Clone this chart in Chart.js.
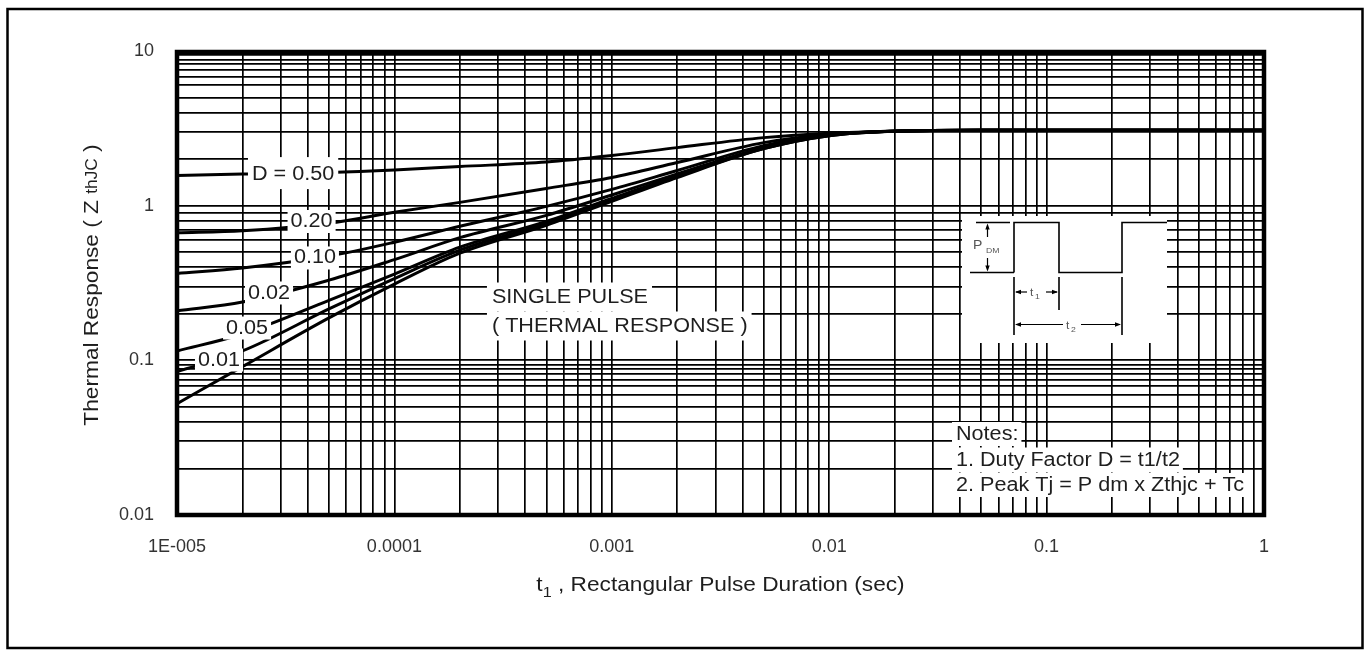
<!DOCTYPE html>
<html>
<head>
<meta charset="utf-8">
<title>Transient Thermal Response</title>
<script src="https://cdn.jsdelivr.net/npm/chart.js@4.4.1/dist/chart.umd.min.js"></script>
<style>
  html, body { margin: 0; padding: 0; background: #fff; }
  canvas { display: block; }
</style>
</head>
<body>
<canvas id="zth" width="1370" height="656"></canvas>
<script>
// Rectangular pulse duration t1 (s) at which every curve is sampled
const pulseTimes = [1e-5, 2e-5, 5e-5, 1e-4, 2e-4, 5e-4, 1e-3, 2e-3, 5e-3, 1e-2, 2e-2, 5e-2, 1];

// Transient thermal response Zth(JC), one array per labelled curve
const zD50    = [1.567, 1.603, 1.639, 1.700, 1.791, 1.914, 2.108, 2.373, 2.754, 2.943, 3.03, 3.07, 3.07];
const zD20    = [0.668, 0.688, 0.769, 0.906, 1.050, 1.292, 1.521, 1.900, 2.556, 2.900, 3.03, 3.07, 3.07];
const zD10    = [0.364, 0.395, 0.472, 0.580, 0.736, 0.990, 1.274, 1.688, 2.445, 2.878, 3.03, 3.07, 3.07];
const zD02    = [0.209, 0.238, 0.330, 0.448, 0.621, 0.866, 1.173, 1.603, 2.373, 2.857, 3.03, 3.07, 3.07];
const zD05    = [0.115, 0.148, 0.244, 0.361, 0.539, 0.792, 1.114, 1.556, 2.356, 2.857, 3.03, 3.07, 3.07];
const zD01    = [0.0845, 0.115, 0.215, 0.338, 0.516, 0.769, 1.090, 1.544, 2.339, 2.836, 3.03, 3.07, 3.07];
const zSingle = [0.0525, 0.091, 0.188, 0.311, 0.493, 0.747, 1.066, 1.521, 2.339, 2.836, 3.03, 3.07, 3.07];

const curveNames = ['D = 0.50', '0.20', '0.10', '0.02', '0.05', '0.01', 'SINGLE PULSE'];
const curveValues = [zD50, zD20, zD10, zD02, zD05, zD01, zSingle];

// Axis decades and their printed labels
const xDecades = [1e-5, 1e-4, 1e-3, 1e-2, 1e-1, 1];
const xTickLabels = ['1E-005', '0.0001', '0.001', '0.01', '0.1', '1'];
const yDecades = [0.01, 0.1, 1, 10];
const yTickLabels = ['0.01', '0.1', '1', '10'];

// Grid rulings inside each decade (the outer y decades are ruled more finely)
const xSteps = [1, 2, 3, 4, 5, 6, 7, 8, 9];
const ySteps = [
  [1, 2, 3, 4, 5, 6, 6.8, 7.5, 8.2, 8.8, 9.4],   // 0.01 .. 0.1
  [1, 2, 3, 4, 5, 6, 7, 8, 9],                   // 0.1 .. 1
  [1, 2, 3, 4, 5, 6, 6.8, 7.5, 8.2, 8.8, 9.4]    // 1 .. 10
];

const xGrid = [];
for (let i = 0; i < xDecades.length - 1; i++) xSteps.forEach(m => xGrid.push(xDecades[i] * m));
xGrid.push(xDecades[xDecades.length - 1]);
const yGrid = [];
for (let i = 0; i < yDecades.length - 1; i++) ySteps[i].forEach(m => yGrid.push(yDecades[i] * m));
yGrid.push(yDecades[yDecades.length - 1]);

function decadeLabel(v, decades, labels) {
  for (let i = 0; i < decades.length; i++) {
    if (Math.abs(Math.log10(v) - Math.log10(decades[i])) < 1e-6) return labels[i];
  }
  return '';
}

const SANS = '"Liberation Sans", Arial, Helvetica, sans-serif';
const INK = '#1e1e1e';
const STRETCH = 1.08;   // lettering is a little wider than the stock face

function textWidth(ctx, s) { return ctx.measureText(s).width * STRETCH; }
function putText(ctx, s, x, y, align) {
  const w = textWidth(ctx, s);
  let x0 = x;
  if (align === 'center') x0 = x - w / 2;
  else if (align === 'right') x0 = x - w;
  ctx.save();
  ctx.translate(x0, y);
  ctx.scale(STRETCH, 1);
  ctx.textAlign = 'left';
  ctx.fillText(s, 0, 0);
  ctx.restore();
  return w;
}
// text line sitting on its own white patch, left anchored
function patchText(ctx, s, x, y, padL, padR, h) {
  const w = textWidth(ctx, s);
  ctx.fillStyle = '#fff';
  ctx.fillRect(x - padL, y - h / 2, w + padL + padR, h);
  ctx.fillStyle = INK;
  putText(ctx, s, x, y, 'left');
}

// Curve tags, anchored in data space (t1, Zth); up/down = patch extent around the text
const curveTags = [
  { text: 'D = 0.50', t: 3.42e-5, z: 1.60,   padX: 4, up: 17, down: 15 },
  { text: '0.20',     t: 4.16e-5, z: 0.790,  padX: 3, up: 11.5, down: 11.5 },
  { text: '0.10',     t: 4.31e-5, z: 0.459,  padX: 3, up: 11.5, down: 11.5 },
  { text: '0.02',     t: 2.65e-5, z: 0.2725, padX: 3, up: 11.5, down: 11.5 },
  { text: '0.05',     t: 2.10e-5, z: 0.1618, padX: 3, up: 11.5, down: 11.5 },
  { text: '0.01',     t: 1.56e-5, z: 0.1005, padX: 3, up: 11.5, down: 11.5 }
];

function arrowHead(ctx, x, y, dx, dy, len, half) {
  // tip at (x,y), pointing along (dx,dy)
  const px = -dy, py = dx;
  ctx.beginPath();
  ctx.moveTo(x, y);
  ctx.lineTo(x - dx * len + px * half, y - dy * len + py * half);
  ctx.lineTo(x - dx * len - px * half, y - dy * len - py * half);
  ctx.closePath();
  ctx.fill();
}
function seg(ctx, x1, y1, x2, y2) {
  ctx.beginPath(); ctx.moveTo(x1, y1); ctx.lineTo(x2, y2); ctx.stroke();
}

function drawPulseInset(ctx) {
  ctx.fillStyle = '#fff';
  ctx.fillRect(962, 216, 205, 127);
  ctx.strokeStyle = '#000';
  ctx.fillStyle = '#000';
  ctx.lineWidth = 1.6;
  const hi = 222.5, lo = 272.5;
  seg(ctx, 976, hi, 1010, hi);
  seg(ctx, 970, lo, 1014, lo);
  ctx.beginPath();
  ctx.moveTo(1014, lo); ctx.lineTo(1014, hi); ctx.lineTo(1059, hi); ctx.lineTo(1059, lo);
  ctx.lineTo(1122, lo); ctx.lineTo(1122, hi); ctx.lineTo(1167, hi);
  ctx.stroke();
  // P_DM arrows
  ctx.lineWidth = 1.2;
  seg(ctx, 987.5, 228, 987.5, 237);
  arrowHead(ctx, 987.5, hi + 1, 0, -1, 6, 2.2);
  seg(ctx, 987.5, 258, 987.5, 267);
  arrowHead(ctx, 987.5, lo - 1, 0, 1, 6, 2.2);
  ctx.fillStyle = '#555';
  ctx.textBaseline = 'alphabetic';
  ctx.font = `13px ${SANS}`;
  putText(ctx, 'P', 973, 249, 'left');
  ctx.font = `8px ${SANS}`;
  putText(ctx, 'DM', 986, 253, 'left');
  // extension lines
  ctx.lineWidth = 1.6;
  ctx.strokeStyle = '#000';
  seg(ctx, 1014, 277, 1014, 335);
  seg(ctx, 1059, 277, 1059, 310);
  seg(ctx, 1122, 277, 1122, 335);
  // t1 dimension
  ctx.lineWidth = 1.2;
  ctx.fillStyle = '#000';
  seg(ctx, 1016, 292, 1027, 292);
  arrowHead(ctx, 1015, 292, -1, 0, 6, 2.2);
  seg(ctx, 1046, 292, 1057, 292);
  arrowHead(ctx, 1058, 292, 1, 0, 6, 2.2);
  ctx.fillStyle = '#555';
  ctx.font = `11px ${SANS}`;
  putText(ctx, 't', 1030, 296, 'left');
  ctx.font = `8px ${SANS}`;
  putText(ctx, '1', 1035, 299, 'left');
  // t2 dimension
  ctx.fillStyle = '#000';
  seg(ctx, 1016, 324.5, 1063, 324.5);
  arrowHead(ctx, 1015, 324.5, -1, 0, 6, 2.2);
  seg(ctx, 1081, 324.5, 1120, 324.5);
  arrowHead(ctx, 1121, 324.5, 1, 0, 6, 2.2);
  ctx.fillStyle = '#555';
  ctx.font = `11px ${SANS}`;
  putText(ctx, 't', 1066, 328.5, 'left');
  ctx.font = `8px ${SANS}`;
  putText(ctx, '2', 1071, 331.5, 'left');
}

function drawRuns(ctx, runs, x, baseline) {
  // runs: [{s, size, dy}] drawn left to right
  let cx = x;
  runs.forEach(r => {
    ctx.font = `${r.size}px ${SANS}`;
    cx += putText(ctx, r.s, cx, baseline + r.dy, 'left');
  });
}
function runsWidth(ctx, runs) {
  let w = 0;
  runs.forEach(r => { ctx.font = `${r.size}px ${SANS}`; w += textWidth(ctx, r.s); });
  return w;
}

const decor = {
  id: 'decor',
  afterDatasetsDraw(chart) {
    const { ctx, chartArea: a, scales } = chart;
    const xs = scales.x, ys = scales.y;
    ctx.save();

    // curve tags on white patches
    ctx.font = `20px ${SANS}`;
    ctx.textBaseline = 'middle';
    curveTags.forEach(tag => {
      const px = xs.getPixelForValue(tag.t), py = ys.getPixelForValue(tag.z);
      const w = textWidth(ctx, tag.text);
      ctx.fillStyle = '#fff';
      ctx.fillRect(px - w / 2 - tag.padX, py - tag.up, w + 2 * tag.padX, tag.up + tag.down);
      ctx.fillStyle = INK;
      putText(ctx, tag.text, px, py, 'center');
    });

    // single pulse caption
    const sx = xs.getPixelForValue(2.81e-4), sy = ys.getPixelForValue(0.2567);
    patchText(ctx, 'SINGLE PULSE', sx, sy, 5, 4, 29);
    patchText(ctx, '( THERMAL RESPONSE )', sx, sy + 29, 5, 4, 29);

    // pulse waveform inset
    drawPulseInset(ctx);

    // notes
    ctx.font = `20px ${SANS}`;
    ctx.textBaseline = 'middle';
    patchText(ctx, 'Notes:', 956, 434, 4, 3, 24);
    patchText(ctx, '1. Duty Factor D = t1/t2', 956, 460, 4, 3, 25);
    patchText(ctx, '2. Peak Tj = P dm x Zthjc + Tc', 956, 485, 4, 3, 24);

    // heavy frame of the plot area
    ctx.strokeStyle = '#000';
    ctx.lineWidth = 4.5;
    ctx.strokeRect(a.left, a.top + 1, a.right - a.left, a.bottom - a.top - 1);

    // axis titles
    ctx.fillStyle = INK;
    ctx.textBaseline = 'alphabetic';
    const xRuns = [
      { s: 't', size: 21, dy: 0 },
      { s: '1', size: 15, dy: 6 },
      { s: ' , Rectangular Pulse Duration (sec)', size: 21, dy: 0 }
    ];
    const xw = runsWidth(ctx, xRuns);
    drawRuns(ctx, xRuns, (a.left + a.right) / 2 - xw / 2, 591);

    ctx.save();
    ctx.translate(98, (a.top + a.bottom) / 2 + 2);
    ctx.rotate(-Math.PI / 2);
    const yRuns = [
      { s: 'Thermal Response ( Z ', size: 21, dy: 0 },
      { s: 'thJC', size: 16, dy: -1 },
      { s: ' )', size: 21, dy: 0 }
    ];
    const yw = runsWidth(ctx, yRuns);
    drawRuns(ctx, yRuns, -yw / 2, 0);
    ctx.restore();

    // outer frame of the figure
    ctx.lineWidth = 2.5;
    ctx.strokeRect(7.5, 9, 1355, 639);
    ctx.restore();
  }
};

new Chart(document.getElementById('zth'), {
  type: 'line',
  data: {
    datasets: curveNames.map((name, k) => ({
      label: name,
      data: pulseTimes.map((t, i) => ({ x: t, y: curveValues[k][i] })),
      borderColor: '#000',
      borderWidth: 3,
      pointRadius: 0,
      fill: false,
      cubicInterpolationMode: 'monotone'
    }))
  },
  options: {
    responsive: false,
    animation: false,
    devicePixelRatio: 1,
    layout: { padding: { top: 51, right: 106, left: 0, bottom: 0 } },
    plugins: { legend: { display: false }, tooltip: { enabled: false } },
    scales: {
      x: {
        type: 'logarithmic',
        min: 1e-5,
        max: 1,
        afterBuildTicks: s => { s.ticks = xGrid.map(v => ({ value: v })); },
        afterFit: s => { s.height = 141; },
        grid: { color: '#000', lineWidth: 1.7, drawTicks: false },
        border: { display: false },
        ticks: {
          autoSkip: false, maxRotation: 0, minRotation: 0, padding: 21,
          color: '#333', font: { family: SANS, size: 18 },
          callback: v => decadeLabel(v, xDecades, xTickLabels)
        }
      },
      y: {
        type: 'logarithmic',
        min: 0.01,
        max: 10,
        afterBuildTicks: s => { s.ticks = yGrid.map(v => ({ value: v })); },
        afterFit: s => { s.width = 177; },
        grid: { color: '#000', lineWidth: 1.7, drawTicks: false },
        border: { display: false },
        ticks: {
          autoSkip: false, padding: 23,
          color: '#333', font: { family: SANS, size: 18 },
          callback: v => decadeLabel(v, yDecades, yTickLabels)
        }
      }
    }
  },
  plugins: [decor]
});
</script>
</body>
</html>
